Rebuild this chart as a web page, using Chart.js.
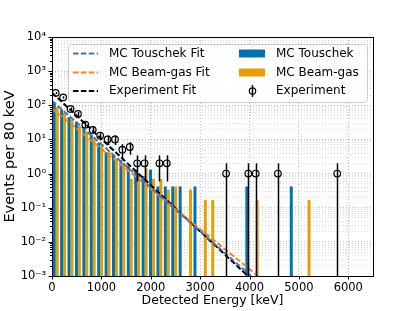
<!DOCTYPE html>
<html><head><meta charset="utf-8">
<script src="https://cdn.jsdelivr.net/npm/chart.js@4/dist/chart.umd.min.js"></script>
<style>html,body{margin:0;padding:0;background:#fff}</style>
</head><body>
<canvas id="c" width="415" height="311"></canvas>
<script>
// ---- data ----
const binCenters = [75,225,375,525,675,825,975,1125,1275,1425,1575,1725,1875,2025,2175,2325,2475,2625,2775,2925,3075,3225,3375,3525,3675,3825,3975,4125,4275,4425,4575,4725,4875,5025,5175];
const touschekMC = [120,75,45,33,20,14,8,4.2,3.5,2.5,1.7,1.3,0.85,1.3,0.42,0.42,0.42,0.42,null,0.42,null,null,null,null,null,null,0.42,null,null,null,null,null,0.42,null,null];
const beamgasMC  = [90,60,38,25,17,10,6.5,4.5,2.8,2.0,0.7,1.0,1.4,0.7,0.7,0.34,0.42,null,0.34,null,0.17,0.17,null,null,null,null,null,0.17,null,null,null,null,null,null,0.17];
const expEnergy = [75,225,375,525,675,825,975,1125,1275,1425,1575,1725,1875,2175,2325,3525,3975,4125,4575,5775];
const expCounts = [230,170,78,56,27,19,13,10,10,5,6,2,2,2,2,1,1,1,1,1];
const touschekFitX = [0,4030], touschekFitY = [135,0.001];
const beamgasFitX  = [0,4170], beamgasFitY  = [80,0.001];
const expFitX      = [0,3965], expFitY      = [234,0.001];
const xTickValues = [0,1000,2000,3000,4000,5000,6000];
const yTickValues = [];
for (let e=-3;e<=4;e++){ for (let m=1;m<=9;m++){ if (e===4 && m>1) break; yTickValues.push(Number((m*Math.pow(10,e)).toPrecision(3))); } }

const FONT = {family:"'DejaVu Sans'", size:11.5};
const C_BLUE='#0072b2', C_ORANGE='#e69f00', C_BFIT='#4c72b0', C_OFIT='#f28522';
const DASH=[5.5,2.4];
const isMajor = v => Math.abs(Math.log10(v)-Math.round(Math.log10(v)))<1e-9;
const sup = {'-':'⁻','0':'⁰','1':'¹','2':'²','3':'³','4':'⁴','5':'⁵','6':'⁶','7':'⁷','8':'⁸','9':'⁹'};
const toSup = n => String(n).split('').map(c=>sup[c]).join('');
const pts = (xs,ys) => xs.map((x,i)=>({x, y: ys[i]}));

const extras = {
  id:'extras',
  afterDatasetsDraw(chart){
    const {ctx, chartArea:a, scales:{x,y}} = chart;
    ctx.save();
    ctx.beginPath(); ctx.rect(a.left,a.top,a.right-a.left,a.bottom-a.top); ctx.clip();
    ctx.strokeStyle='#000'; ctx.lineWidth=1.5;
    expEnergy.forEach((e,i)=>{
      const n=expCounts[i], s=Math.sqrt(n);
      const px=Math.round(x.getPixelForValue(e))+0.5;
      const top=y.getPixelForValue(n+s);
      const lo=n-s; const bot = lo>0 ? y.getPixelForValue(lo) : a.bottom;
      ctx.beginPath(); ctx.moveTo(px,top); ctx.lineTo(px,bot); ctx.stroke();
    });
    ctx.restore();
    ctx.save(); ctx.strokeStyle='#000'; ctx.lineWidth=1;
    ctx.strokeRect(Math.round(a.left)+0.5, Math.round(a.top)+0.5, Math.round(a.right-a.left), Math.round(a.bottom-a.top));
    ctx.beginPath();
    yTickValues.forEach(v=>{ const py=Math.round(y.getPixelForValue(v))+0.5; const L=isMajor(v)?3.5:2; ctx.moveTo(a.left,py); ctx.lineTo(a.left-L,py); });
    xTickValues.forEach(v=>{ const px=Math.round(x.getPixelForValue(v))+0.5; ctx.moveTo(px,a.bottom); ctx.lineTo(px,a.bottom+3.5); });
    ctx.stroke(); ctx.restore();
  },
  afterDraw(chart){
    const {ctx} = chart;
    ctx.save();
    const bx=68, by=44, bw=299, bh=58, r=3;
    ctx.beginPath(); ctx.roundRect(bx+0.5,by+0.5,bw,bh,r);
    ctx.fillStyle='rgba(255,255,255,0.8)'; ctx.fill();
    ctx.strokeStyle='#cccccc'; ctx.lineWidth=1; ctx.stroke();
    ctx.font="12px 'DejaVu Sans'"; ctx.fillStyle='#000'; ctx.textBaseline='middle'; ctx.textAlign='left';
    const rows=[53.5,72.5,91];
    const lines=[['MC Touschek Fit',C_BFIT],['MC Beam-gas Fit',C_OFIT],['Experiment Fit','#000']];
    lines.forEach(([t,c],i)=>{
      ctx.save(); ctx.strokeStyle=c; ctx.lineWidth=2; ctx.setLineDash(DASH);
      ctx.beginPath(); ctx.moveTo(73,rows[i]); ctx.lineTo(98,rows[i]); ctx.stroke(); ctx.restore();
      ctx.fillText(t,109,rows[i]);
    });
    [['MC Touschek',C_BLUE],['MC Beam-gas',C_ORANGE]].forEach(([t,c],i)=>{
      ctx.fillStyle=c; ctx.fillRect(239,rows[i]-4,26,8);
      ctx.fillStyle='#000'; ctx.fillText(t,276,rows[i]);
    });
    ctx.strokeStyle='#000'; ctx.lineWidth=1.5;
    ctx.beginPath(); ctx.moveTo(252.5,rows[2]-6); ctx.lineTo(252.5,rows[2]+6); ctx.stroke();
    ctx.lineWidth=1.2; ctx.beginPath(); ctx.arc(252.5,rows[2],3.2,0,Math.PI*2); ctx.stroke();
    ctx.fillText('Experiment',276,rows[2]);
    ctx.restore();
  }
};

new Chart(document.getElementById('c'), {
  type:'bar',
  data:{ datasets:[
    {type:'bar', label:'MC Touschek', data:pts(binCenters,touschekMC), backgroundColor:C_BLUE, borderWidth:0, categoryPercentage:0.8, barPercentage:1.0, order:3},
    {type:'bar', label:'MC Beam-gas', data:pts(binCenters,beamgasMC), backgroundColor:C_ORANGE, borderWidth:0, categoryPercentage:0.8, barPercentage:1.0, order:3},
    {type:'line', label:'MC Touschek Fit', data:pts(touschekFitX,touschekFitY), borderColor:C_BFIT, borderWidth:2, borderDash:DASH, pointRadius:0, order:2},
    {type:'line', label:'MC Beam-gas Fit', data:pts(beamgasFitX,beamgasFitY), borderColor:C_OFIT, borderWidth:2, borderDash:DASH, pointRadius:0, order:2},
    {type:'line', label:'Experiment Fit', data:pts(expFitX,expFitY), borderColor:'#000', borderWidth:2, borderDash:DASH, pointRadius:0, order:2},
    {type:'line', label:'Experiment', data:pts(expEnergy,expCounts), showLine:false, pointStyle:'circle', pointRadius:3.3, pointBorderWidth:1.2, pointBorderColor:'#000', pointBackgroundColor:'rgba(0,0,0,0)', order:1}
  ]},
  options:{
    responsive:false, animation:false, devicePixelRatio:1,
    layout:{padding:{left:0,top:37,right:42,bottom:0}},
    plugins:{legend:{display:false}, tooltip:{enabled:false}},
    scales:{
      x:{type:'linear', min:0, max:6500, offset:false,
        afterFit(s){ s.height=35; },
        afterBuildTicks(s){ s.ticks = xTickValues.map(v=>({value:v})); },
        ticks:{autoSkip:false, color:'#000', font:FONT, padding:5, maxRotation:0, callback:(v)=>String(v)},
        grid:{color:'#b0b0b0', lineWidth:0.8, drawTicks:false, offset:false},
        border:{display:false, dash:[1,2]},
        title:{display:true, text:'Detected Energy [keV]', color:'#000', font:{family:"'DejaVu Sans'", size:12.5}, padding:{top:2,bottom:3}}
      },
      y:{type:'logarithmic', min:0.001, max:10000,
        afterFit(s){ s.width=52; },
        afterBuildTicks(s){ s.ticks = yTickValues.map(v=>({value:v, major:isMajor(v)})); },
        ticks:{autoSkip:false, color:'#000', font:FONT, padding:6,
          callback:(v)=> isMajor(v) ? '10'+toSup(Math.round(Math.log10(v))) : ''},
        grid:{color:(c)=> (c.tick && isMajor(c.tick.value)) ? '#b0b0b0' : '#cfcfcf', lineWidth:0.8, drawTicks:false},
        border:{display:false, dash:[1,2]},
        title:{display:true, text:'Events per 80 keV', color:'#000', font:{family:"'DejaVu Sans'", size:14.5}, padding:{top:2,bottom:2}}
      }
    }
  },
  plugins:[extras]
});
</script>
</body></html>
